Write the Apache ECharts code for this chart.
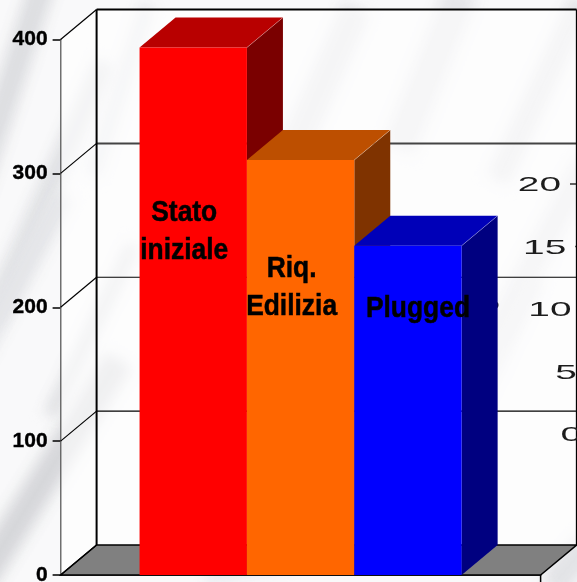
<!DOCTYPE html>
<html>
<head>
<meta charset="utf-8">
<title>Stato iniziale, Riq. Edilizia, Plugged</title>
<style>
  html, body { margin: 0; padding: 0; width: 577px; height: 582px; overflow: hidden; background: #f9f9fa; }
  #marble { position: absolute; inset: 0; overflow: hidden; }
  #marble i { position: absolute; display: block; transform-origin: center; filter: blur(7px); }
  #chart { position: absolute; left: 0; top: 0; width: 577px; height: 582px; }
</style>
</head>
<body>
<div id="marble"></div>
<div id="chart"></div>
<script src="https://cdn.jsdelivr.net/npm/echarts@6/dist/echarts.min.js"></script>
<script>
// Chart content
const barNames = ['Stato\niniziale', 'Riq.\nEdilizia', 'Plugged'];
const barValues = [394, 310, 246];
const frontColors = ['#ff0000', '#ff6600', '#0000ff'];
const topColors = ['#b80000', '#bd4f00', '#0000b8'];
const sideColors = ['#7a0000', '#7f3300', '#000080'];
const yTicks = [0, 100, 200, 300, 400];
const backAxisTicks = [20, 15, 10, 5, 0];
const backAxisPoint = [10];

// Layout of the oblique box and its labels
const DEPTH_X = 36, DEPTH_Y = -30;
const CATEGORY_GAP = 0.329;
const LABEL_OFFSETS = [[-9, 184], [-9, 128], [10, 63]];
const FONT_BOLD = 'Liberation Sans';

// Soft grey veins of the page background: [centre x, centre y, length, width, angle, colour]
const veins = [
  [18, 60, 300, 26, 18, '#dcdde0'], [48, 190, 280, 22, 24, '#e0e1e4'],
  [50, 470, 260, 30, 32, '#d6d7da'], [92, 330, 190, 14, 26, '#dddee1'],
  [8, 300, 240, 22, 28, '#e4e5e8'], [250, 570, 90, 10, 80, '#dfe5ec'],
  [120, 90, 180, 16, 18, '#e6e7ea'], [320, 90, 180, 30, 24, '#e4e4e7'],
  [430, 70, 170, 34, 22, '#e6e6e9'], [540, 90, 200, 24, 25, '#e4e4e7'],
  [540, 250, 200, 26, 28, '#e6e6e9'], [500, 350, 160, 20, 26, '#e9e9ec'],
  [570, 565, 60, 30, 40, '#e2e3e6']
];
const marble = document.getElementById('marble');
veins.forEach(function (v) {
  const el = document.createElement('i');
  el.style.cssText = 'left:' + (v[0] - v[3] / 2) + 'px;top:' + (v[1] - v[2] / 2) + 'px;width:' + v[3] +
    'px;height:' + v[2] + 'px;background:' + v[5] + ';transform:rotate(' + v[4] + 'deg);';
  marble.appendChild(el);
});

const chart = echarts.init(document.getElementById('chart'), null, { renderer: 'canvas' });

function poly(points, fill, stroke, lineWidth) {
  return { type: 'polygon', shape: { points: points },
    style: { fill: fill, stroke: stroke || null, lineWidth: lineWidth || 0 } };
}
function segment(a, b, color, width) {
  return { type: 'line', shape: { x1: a[0], y1: a[1], x2: b[0], y2: b[1] },
    style: { stroke: color, lineWidth: width, fill: null } };
}
function back(p) { return [p[0] + DEPTH_X, p[1] + DEPTH_Y]; }

// Side wall, back wall, floor and the grid lines running round them
function renderFrame(params, api) {
  const coordSys = params.coordSys;
  const left = coordSys.x, right = coordSys.x + coordSys.width;
  const base = api.coord([0, 0])[1], ceil = api.coord([0, 400])[1];
  const fl = [left, base], fr = [right, base], tl = [left, ceil];
  const children = [
    poly([tl, back(tl), back([right, ceil]), back(fr), back(fl), fl], 'rgba(255,255,255,0.62)'),
    poly([fl, back(fl), back(fr), fr], '#808080', '#000000', 1.5)
  ];
  yTicks.forEach(function (t) {
    const y = api.coord([0, t])[1];
    children.push(segment([left, y], back([left, y]), '#000000', 1.2));
    if (t > 0) {
      const heavy = t === 400 || t === 300;
      children.push(segment(back([left, y]), back([right, y]),
        t === 300 ? '#444444' : '#000000', heavy ? 2 : 1.2));
    }
  });
  children.push(segment(back(tl), back(fl), '#000000', 2));
  children.push(segment(back([right, ceil]), back(fr), '#000000', 1.5));
  children.push(segment(fr, [right, base + 8], '#000000', 1.5));
  return { type: 'group', children: children };
}

// Top and side faces of each bar, drawn left to right so later bars overlap earlier ones
function renderDepth(params, api) {
  const i = api.value(2);
  const band = api.size([1, 0])[0];
  const w = band * (1 - CATEGORY_GAP) / barValues.length;
  const x0 = api.coord([0, 0])[0] - w * barValues.length / 2 + i * w;
  const top = api.coord([0, api.value(1)])[1], base = api.coord([0, 0])[1];
  const tl = [x0, top], tr = [x0 + w, top], br = [x0 + w, base];
  return { type: 'group', children: [
    poly([tr, back(tr), back(br), br], sideColors[i]),
    poly([tl, back(tl), back(tr), tr], topColors[i]),
    segment(tr, back(tr), 'rgba(255,255,255,0.28)', 1)
  ] };
}

// Bold names set over the bar fronts
function renderBarLabel(params, api) {
  const i = api.value(2);
  const band = api.size([1, 0])[0];
  const w = band * (1 - CATEGORY_GAP) / barValues.length;
  const x0 = api.coord([0, 0])[0] - w * barValues.length / 2 + i * w;
  const top = api.coord([0, api.value(1)])[1];
  return {
    type: 'text', x: x0 + w / 2 + LABEL_OFFSETS[i][0], y: top + LABEL_OFFSETS[i][1], scaleX: 0.91,
    style: { text: barNames[i], x: 0, y: 0, align: 'center', verticalAlign: 'middle',
      font: 'bold 29px "' + FONT_BOLD + '"', lineHeight: 38, fill: '#000000',
      stroke: '#000000', lineWidth: 0.5 }
  };
}

// The wide, slightly slanted scale standing behind the bars
function renderBackTick(params, api) {
  const y = api.coord([0, api.value(0)])[1];
  const right = 561 + (y - 184) * 0.084;
  const tickStart = right + 9;
  const children = [{
    type: 'text', x: right, y: y + 1.5, scaleX: 1.85,
    style: { text: String(api.value(0)), x: 0, y: 0, align: 'right', verticalAlign: 'middle',
      font: '21px "Liberation Sans"', fill: '#1c1c1c' }
  }];
  if (tickStart < 576) children.push(segment([tickStart, y], [576, y], '#222222', 1.4));
  return { type: 'group', children: children };
}
function renderBackPoint(params, api) {
  const y = api.coord([0, api.value(0)])[1];
  return { type: 'circle', shape: { cx: 495, cy: y - 4, r: 3.5 }, style: { fill: '#222222' } };
}

const barRows = barValues.map(function (v, i) { return [0, v, i]; });

const option = {
  animation: false,
  backgroundColor: 'transparent',
  grid: [
    { left: 60.6, width: 480, top: 39.5, height: 535.5, outerBoundsMode: 'none' },
    { left: 61, right: 0, top: 184, height: 250, outerBoundsMode: 'none' }
  ],
  xAxis: [
    { type: 'category', data: [''], gridIndex: 0,
      axisLine: { onZero: false, lineStyle: { color: '#000', width: 1.5 } },
      axisTick: { show: false }, axisLabel: { show: false } },
    { type: 'value', gridIndex: 1, show: false, min: 0, max: 1 }
  ],
  yAxis: [
    { type: 'value', gridIndex: 0, min: 0, max: 400, interval: 100,
      axisLine: { show: true, lineStyle: { color: '#000', width: 1.5 } },
      axisTick: { show: true, length: 8, lineStyle: { color: '#000', width: 1.5 } },
      splitLine: { show: false },
      axisLabel: { margin: 13, color: '#000', fontFamily: FONT_BOLD, fontWeight: 'bold', fontSize: 21,
        textBorderColor: '#000', textBorderWidth: 0.4,
        formatter: function (v) { return yTicks.indexOf(v) >= 0 ? String(v) : ''; } } },
    { type: 'value', gridIndex: 1, show: false, min: 0, max: 20, interval: 5 }
  ],
  series: [
    { type: 'custom', name: 'frame', xAxisIndex: 0, yAxisIndex: 0, z: 1, silent: true,
      renderItem: renderFrame, data: [[0, 0]], clip: false },
    { type: 'custom', name: 'back scale', xAxisIndex: 1, yAxisIndex: 1, z: 2, silent: true,
      renderItem: renderBackTick, data: backAxisTicks.map(function (v) { return [v]; }),
      encode: { y: 0 }, clip: false },
    { type: 'custom', name: 'back point', xAxisIndex: 1, yAxisIndex: 1, z: 2, silent: true,
      renderItem: renderBackPoint, data: backAxisPoint.map(function (v) { return [v]; }),
      encode: { y: 0 }, clip: false },
    { type: 'custom', name: 'depth', xAxisIndex: 0, yAxisIndex: 0, z: 3, silent: true,
      renderItem: renderDepth, data: barRows, encode: { x: 0, y: 1 }, clip: false }
  ].concat(barValues.map(function (v, i) {
    return { type: 'bar', name: barNames[i].replace('\n', ' '), xAxisIndex: 0, yAxisIndex: 0, z: 4,
      barGap: 0, barCategoryGap: (CATEGORY_GAP * 100) + '%', silent: true,
      itemStyle: { color: frontColors[i] }, data: [v] };
  })).concat([
    { type: 'custom', name: 'bar names', xAxisIndex: 0, yAxisIndex: 0, z: 5, silent: true,
      renderItem: renderBarLabel, data: barRows, encode: { x: 0, y: 1 }, clip: false }
  ])
};
chart.setOption(option);
</script>
</body>
</html>
